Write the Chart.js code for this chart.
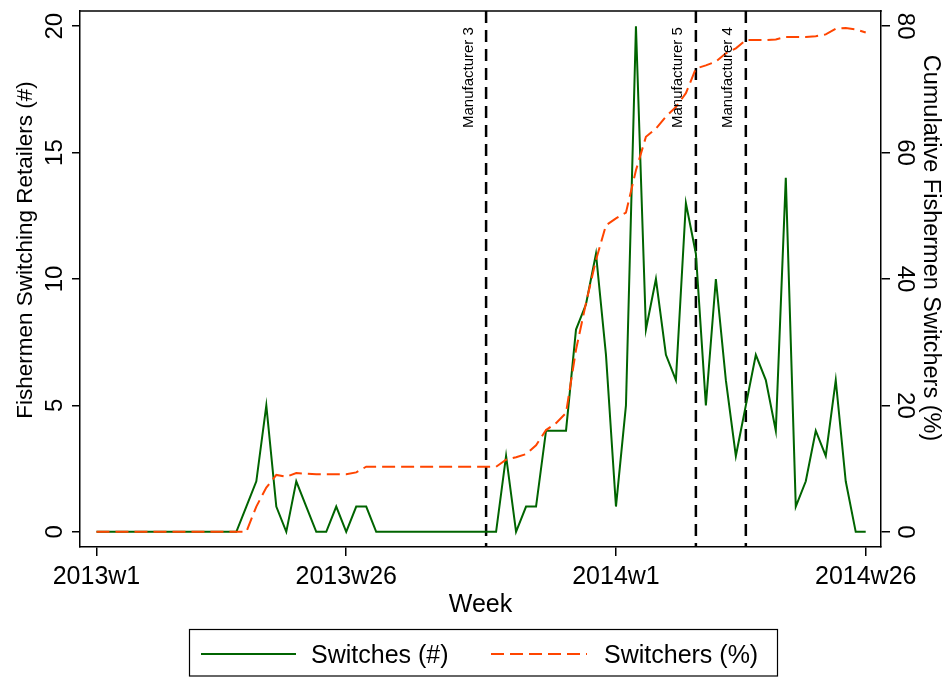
<!DOCTYPE html>
<html><head><meta charset="utf-8">
<script src="https://cdn.jsdelivr.net/npm/chart.js@4.4.0/dist/chart.umd.min.js"></script>
<style>html,body{margin:0;padding:0;background:#fff;}canvas{display:block;}</style>
</head><body>
<canvas id="c" width="951" height="677"></canvas>
<script>
// ---- data ----
const weeks = [];
for (let w = 1; w <= 52; w++) weeks.push('2013w' + w);
for (let w = 1; w <= 26; w++) weeks.push('2014w' + w);

const switches = [
  0,0,0,0,0,0,0,0,0,0, 0,0,0,0,0,1,2,5,1,0,
  2,1,0,0,1,0,1,1,0,0, 0,0,0,0,0,0,0,0,0,0,
  0,3,0,1,1,4,4,4,8,9, 11,7,1,5,20,8,10,7,6,13,
  11,5,10,6,3,5,7,6,4,14, 1,2,4,3,6,2,0,0
];
const switchersPct = [
  0,0,0,0,0,0,0,0,0,0, 0,0,0,0,0,0,4.0,7.0,9.0,8.7,
  9.3,9.2,9.1,9.1,9.1,9.1,9.4,10.3,10.3,10.3, 10.3,10.3,10.3,10.3,10.3,10.3,10.3,10.3,10.3,10.3,
  10.3,11.4,11.8,12.3,13.7,16.1,17.2,18.8,28.8,36.2, 43.0,48.5,49.6,50.5,57.2,62.5,63.8,65.7,67.2,69.4,
  73.3,73.8,74.4,75.7,76.5,77.8,77.8,77.8,77.9,78.3, 78.3,78.3,78.4,78.7,79.6,79.7,79.5,79.0
];
const xTickLabels = ['2013w1', '2013w26', '2014w1', '2014w26'];
const leftTicks = [0, 5, 10, 15, 20];
const rightTicks = [0, 20, 40, 60, 80];
const eventWeeks = ['2013w40', '2014w9', '2014w14'];
const eventLabels = ['Manufacturer 3', 'Manufacturer 5', 'Manufacturer 4'];

const seriesNames = ['Switches (#)', 'Switchers (%)'];
const titles = { x: 'Week', yLeft: 'Fishermen Switching Retailers (#)', yRight: 'Cumulative Fishermen Switchers (%)' };

// ---- chart ----
const FONT = '"Liberation Sans", Arial, Helvetica, sans-serif';
const GREEN = '#006400', ORANGE = '#ff4500';

const deco = {
  id: 'deco',
  beforeDraw(chart) {
    const ctx = chart.ctx;
    ctx.save(); ctx.fillStyle = '#fff'; ctx.fillRect(0, 0, chart.width, chart.height); ctx.restore();
  },
  beforeDatasetsDraw(chart) {
    const ctx = chart.ctx, ca = chart.chartArea, sx = chart.scales.x;
    ctx.save();
    ctx.strokeStyle = '#000'; ctx.lineWidth = 2.5; ctx.setLineDash([12, 7]);
    eventWeeks.forEach(w => {
      const x = sx.getPixelForValue(weeks.indexOf(w));
      ctx.beginPath(); ctx.moveTo(x, ca.top); ctx.lineTo(x, ca.bottom); ctx.stroke();
    });
    ctx.restore();
  },
  afterDraw(chart) {
    const ctx = chart.ctx, ca = chart.chartArea;
    const sx = chart.scales.x, sy = chart.scales.y, sy2 = chart.scales.y2;
    ctx.save();
    // top frame
    ctx.strokeStyle = '#000'; ctx.lineWidth = 1.5;
    ctx.beginPath(); ctx.moveTo(ca.left - 0.75, ca.top); ctx.lineTo(ca.right + 0.75, ca.top); ctx.stroke();
    ctx.fillStyle = '#000';
    // event labels
    ctx.font = '15px ' + FONT; ctx.textBaseline = 'alphabetic';
    eventWeeks.forEach((w, i) => {
      const x = sx.getPixelForValue(weeks.indexOf(w));
      ctx.save(); ctx.translate(x - 13.5, sy.getPixelForValue(20) + 1); ctx.rotate(-Math.PI / 2);
      ctx.textAlign = 'right'; ctx.fillText(eventLabels[i], 0, 0); ctx.restore();
    });
    // x tick labels
    ctx.font = '25px ' + FONT; ctx.textAlign = 'center';
    xTickLabels.forEach(l => ctx.fillText(l, sx.getPixelForValue(weeks.indexOf(l)), ca.bottom + 36.5));
    // x title
    ctx.fillText(titles.x, (ca.left + ca.right) / 2, ca.bottom + 65);
    // left ticks
    ctx.font = '24px ' + FONT;
    leftTicks.forEach(v => {
      ctx.save(); ctx.translate(ca.left - 18, sy.getPixelForValue(v)); ctx.rotate(-Math.PI / 2);
      ctx.textAlign = 'center'; ctx.fillText(String(v), 0, 0); ctx.restore();
    });
    rightTicks.forEach(v => {
      ctx.save(); ctx.translate(ca.right + 17, sy2.getPixelForValue(v)); ctx.rotate(Math.PI / 2);
      ctx.textAlign = 'center'; ctx.fillText(String(v), 0, 0); ctx.restore();
    });
    // y titles
    ctx.font = '22.5px ' + FONT;
    ctx.save(); ctx.translate(31.5, ca.top + 239); ctx.rotate(-Math.PI / 2);
    ctx.textAlign = 'center'; ctx.fillText(titles.yLeft, 0, 0); ctx.restore();
    ctx.font = '23.5px ' + FONT;
    ctx.save(); ctx.translate(ca.right + 43, ca.top + 237); ctx.rotate(Math.PI / 2);
    ctx.textAlign = 'center'; ctx.fillText(titles.yRight, 0, 0); ctx.restore();
    // legend
    ctx.lineWidth = 1.2; ctx.strokeStyle = '#000';
    ctx.strokeRect(189.5, 629.5, 588, 46.5);
    const ly = 654;
    ctx.lineWidth = 2;
    ctx.strokeStyle = GREEN; ctx.setLineDash([]);
    ctx.beginPath(); ctx.moveTo(201, ly); ctx.lineTo(296, ly); ctx.stroke();
    ctx.strokeStyle = ORANGE; ctx.setLineDash([13, 6]);
    ctx.beginPath(); ctx.moveTo(491, ly); ctx.lineTo(587, ly); ctx.stroke();
    ctx.setLineDash([]);
    ctx.font = '25px ' + FONT; ctx.textAlign = 'left'; ctx.fillStyle = '#000';
    ctx.fillText(seriesNames[0], 311, 663);
    ctx.fillText(seriesNames[1], 604, 663);
    ctx.restore();
  }
};

const axisGrid = { display: true, drawOnChartArea: false, drawTicks: true, color: '#000', lineWidth: 1.5 };
const axisBorder = { display: true, color: '#000', width: 1.5 };

new Chart(document.getElementById('c'), {
  type: 'line',
  data: {
    datasets: [
      { label: seriesNames[1], data: switchersPct.map((v, i) => ({ x: i, y: v })), yAxisID: 'y2',
        borderColor: ORANGE, borderWidth: 2, borderDash: [13, 6], pointRadius: 0, tension: 0, fill: false },
      { label: seriesNames[0], data: switches.map((v, i) => ({ x: i, y: v })), yAxisID: 'y',
        borderColor: GREEN, borderWidth: 2, pointRadius: 0, tension: 0, fill: false }
    ]
  },
  options: {
    responsive: false, animation: false, devicePixelRatio: 1,
    layout: { padding: { top: 11, left: 0, right: 0, bottom: 0 } },
    plugins: { legend: { display: false }, tooltip: { enabled: false } },
    scales: {
      x: { type: 'linear', position: 'bottom', min: -1.65, max: 78.53,
        afterBuildTicks: s => { s.ticks = xTickLabels.map(l => ({ value: weeks.indexOf(l) })); },
        afterFit: s => { s.height = 130; },
        ticks: { display: false }, grid: Object.assign({}, axisGrid, { tickLength: 9 }), border: axisBorder },
      y: { type: 'linear', position: 'left', min: -0.6, max: 20.6,
        afterBuildTicks: s => { s.ticks = leftTicks.map(v => ({ value: v })); },
        afterFit: s => { s.width = 80; },
        ticks: { display: false }, grid: Object.assign({}, axisGrid, { tickLength: 8 }), border: axisBorder },
      y2: { type: 'linear', position: 'right', min: -2.4, max: 82.4,
        afterBuildTicks: s => { s.ticks = rightTicks.map(v => ({ value: v })); },
        afterFit: s => { s.width = 70; },
        ticks: { display: false }, grid: Object.assign({}, axisGrid, { tickLength: 9 }), border: axisBorder }
    }
  },
  plugins: [deco]
});
</script>
</body></html>
